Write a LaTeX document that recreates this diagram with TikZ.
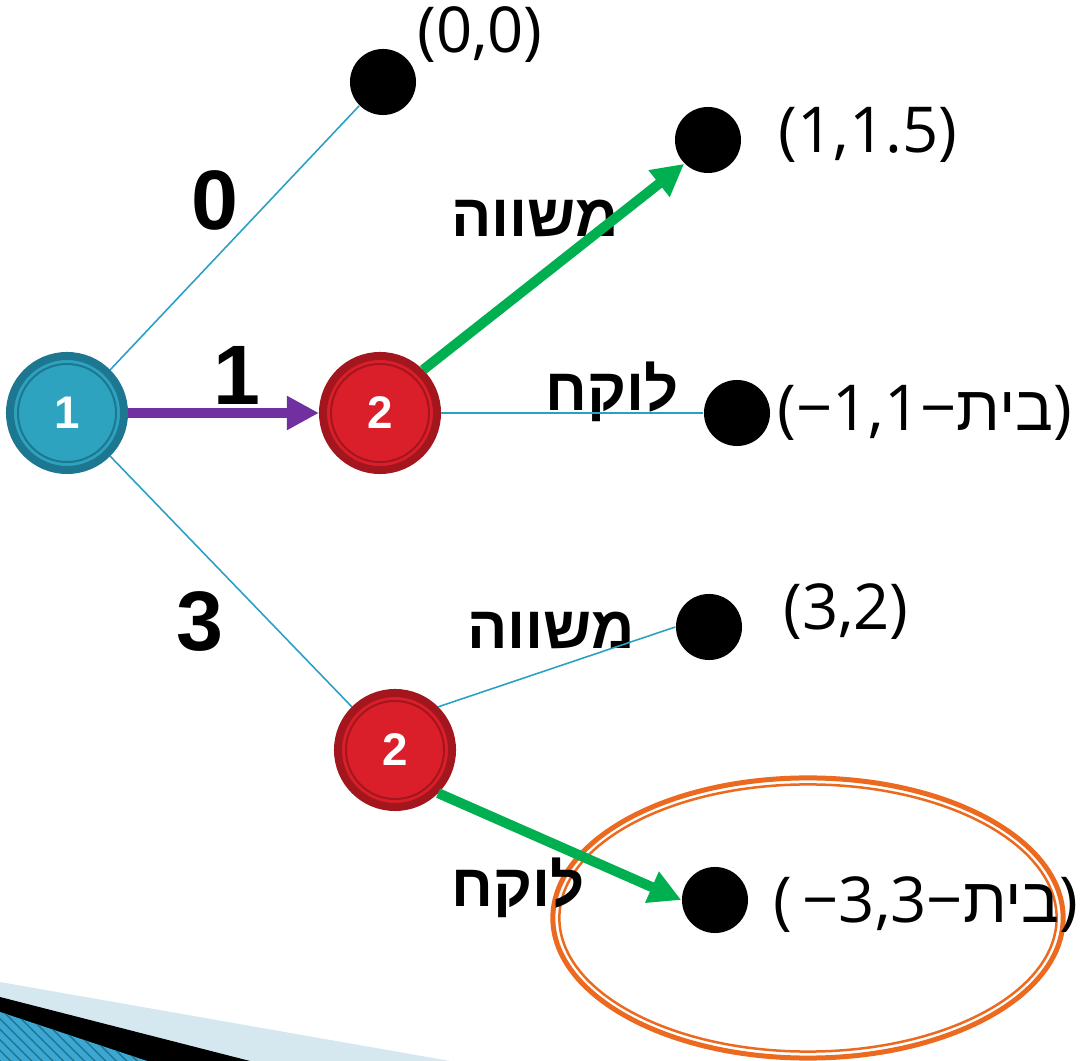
\documentclass[tikz,border=0pt]{standalone}
\usepackage{fontspec}
\setmainfont{Open Sans}
\newfontfamily\hebfont[Script=Hebrew]{Liberation Sans}
\newfontfamily\arialfont{Liberation Sans}
\TeXXeTstate=1
\usetikzlibrary{arrows.meta,patterns}
\definecolor{tealfill}{HTML}{2DA3C0}
\definecolor{tealring}{HTML}{1E7790}
\definecolor{redfill}{HTML}{DA1F2A}
\definecolor{redring}{HTML}{A3161D}
\definecolor{movepurple}{HTML}{7030A0}
\definecolor{movegreen}{HTML}{00B050}
\definecolor{edgeteal}{HTML}{2AA0C4}
\definecolor{ringorange}{HTML}{EC6A1F}
\definecolor{bandlight}{HTML}{D6E8EF}
\definecolor{bandblue}{HTML}{3DA7D3}

\begin{document}
\begin{tikzpicture}[x=0.01cm, y=-0.01cm,
    state/.style={circle, minimum size=1.14cm, inner sep=0pt, line width=0.08cm, text=white, font=\arialfont\bfseries\fontsize{13}{13}\selectfont},
    pone/.style={state, draw=tealring, fill=tealfill, path picture={\draw[tealring, line width=0.02cm] (path picture bounding box.center) circle (0.49cm);}},
    ptwo/.style={state, draw=redring, fill=redfill, path picture={\draw[redring, line width=0.02cm] (path picture bounding box.center) circle (0.49cm);}},
    leaf/.style={circle, fill=black, minimum size=0.66cm, inner sep=0pt},
    pay/.style={font=\fontsize{18}{20}\selectfont, inner sep=1pt},
    offer/.style={font=\arialfont\bfseries\fontsize{24}{26}\selectfont},
    reply/.style={font=\hebfont\bfseries\fontsize{17}{19}\selectfont},
    edge/.style={edgeteal, line width=0.45pt},
    arr/.style={line width=0.1cm, -{Triangle[length=0.32cm, width=0.32cm]}}
]
\useasboundingbox (0,0) rectangle (1084,1061);

\fill[bandlight] (0,982) -- (450,1061) -- (0,1061) -- cycle;
\fill[black] (0,997) -- (250,1061) -- (0,1061) -- cycle;
\fill[bandblue] (0,1012) -- (147,1061) -- (0,1061) -- cycle;
\fill[pattern=north west lines, pattern color=tealring] (0,1012) -- (147,1061) -- (0,1061) -- cycle;

\draw[ringorange, line width=0.05cm] (808,918) ellipse [x radius=2.55cm, y radius=1.4cm];
\draw[ringorange, line width=0.025cm] (808,918) ellipse [x radius=2.485cm, y radius=1.335cm];

\node[pone] (p1) at (67,413) {1};
\node[ptwo] (a2) at (380,413) {2};
\node[ptwo] (b2) at (395,750) {2};

\node[leaf] (z1) at (383,82) {};
\node[leaf] (z2) at (708,140) {};
\node[leaf] (z3) at (737,413) {};
\node[leaf] (z4) at (709,627) {};
\node[leaf] (z5) at (715,900) {};

\node[pay] (v1) at (480,35) {(0,0)};
\node[pay] (v2) at (868,135) {(1,1.5)};
\node[pay] (v3) at (925,413) {(−1,1−{\hebfont\beginR בית\endR})};
\node[pay] (v4) at (846,612) {(3,2)};
\node[pay] (v5) at (926,905) {(\,−3,3−{\hebfont\beginR בית\endR})};

\node[offer] (o0) at (215,200) {0};
\node[offer] (o1) at (237,375) {1};
\node[offer] (o3) at (200,622) {3};

\node[reply] (r1) at (535,218) {\beginR משווה\endR};
\node[reply] (r2) at (612,392) {\beginR לוקח\endR};
\node[reply] (r3) at (551,630) {\beginR משווה\endR};
\node[reply] (r4) at (518,888) {\beginR לוקח\endR};

\draw[edge] (p1.north east) -- (z1.south west);
\draw[edge] (p1.south east) -- (b2.north west);
\draw[edge] (a2.east) -- (z3.west);
\draw[edge] (b2.north east) -- (z4.west);
\draw[arr, movepurple] (p1) -- (a2);
\draw[arr, movegreen] (a2.north east) -- (z2.south west);
\draw[arr, movegreen] (b2.south east) -- (z5.west);
\end{tikzpicture}
\end{document}
